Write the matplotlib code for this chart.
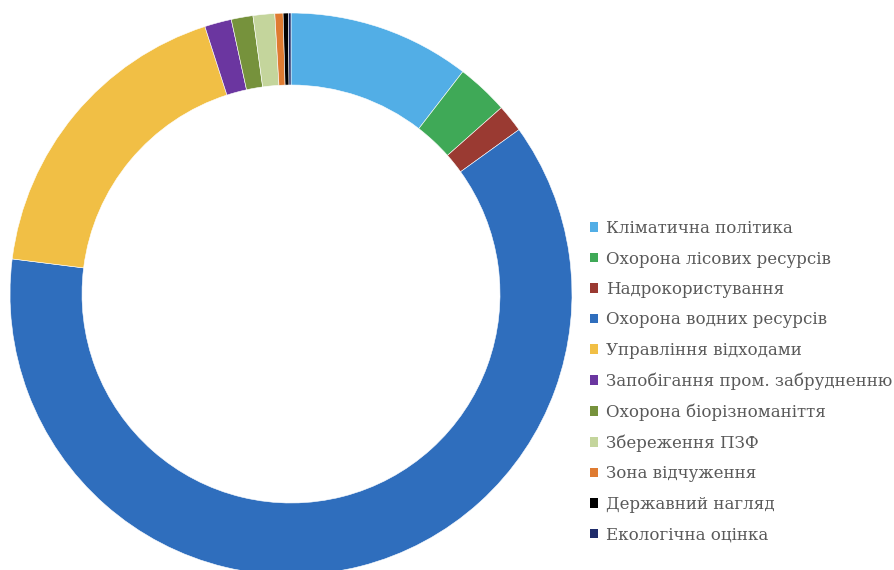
import numpy as np
import matplotlib.pyplot as plt
from matplotlib.patches import Patch

labels = ['Кліматична політика', 'Охорона лісових ресурсів', 'Надрокористування',
          'Охорона водних ресурсів', 'Управління відходами', 'Запобігання пром. забрудненню',
          'Охорона біорізноманіття', 'Збереження ПЗФ', 'Зона відчуження',
          'Державний нагляд', 'Екологічна оцінка']
shares = [10.5, 3.0, 1.6, 62.1, 18.1, 1.55, 1.25, 1.25, 0.47, 0.3, 0.15]
colors = ['#52AEE6', '#3FA957', '#9A3A32', '#2F6EBD', '#F1BF45', '#6B36A0',
          '#76923C', '#C4D59C', '#DF7B31', '#000000', '#1F2C6A']

fig = plt.figure(figsize=(8.94, 5.70), dpi=100)
ax = fig.add_axes([0, 0, 1, 1])

cx, cy, r = 291, 570 - 294, 281
ax.pie(shares, colors=colors, startangle=90, counterclock=False,
       center=(cx, cy), radius=r,
       wedgeprops=dict(width=72, edgecolor='white', linewidth=0.4))
ax.set_xlim(0, 894)
ax.set_ylim(0, 570)
ax.set_aspect('equal')
ax.axis('off')

handles = [Patch(facecolor=c, edgecolor='none') for c in colors]
fig.legend(handles, labels, loc='upper left', bbox_to_anchor=(590 / 894, 1 - 220 / 570),
           frameon=False, prop=dict(family='DejaVu Serif', size=12),
           labelcolor='#595959', handlelength=0.5, handleheight=0.5,
           handletextpad=0.45, labelspacing=0.81, borderaxespad=0, borderpad=0)

fig.savefig('out.png', dpi=100)
